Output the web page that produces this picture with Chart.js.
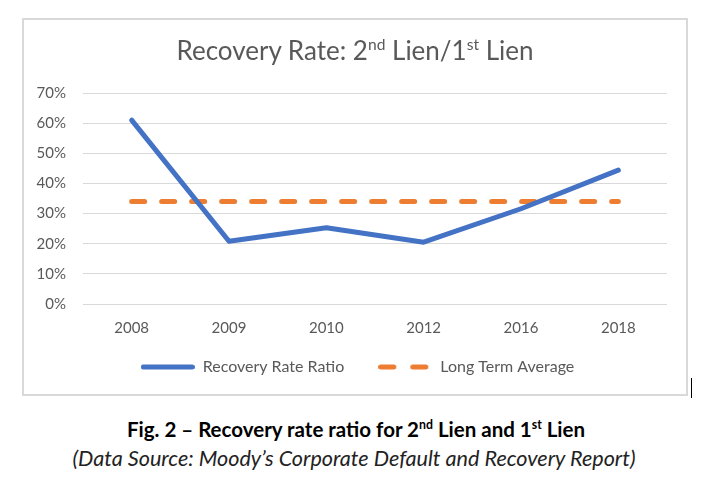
<!DOCTYPE html>
<html>
<head>
<meta charset="utf-8">
<script src="https://cdn.jsdelivr.net/npm/chart.js@4/dist/chart.umd.min.js"></script>
<style>
  html, body { margin: 0; padding: 0; background: #fff; }
  body { width: 705px; height: 482px; position: relative; overflow: hidden; font-family: Lato, "Open Sans", sans-serif; }
  #box {
    position: absolute; left: 22px; top: 18px; width: 666px; height: 378px;
    border: 2px solid #d9d9d9; box-sizing: border-box;
  }
  #box canvas { position: absolute; left: 0; top: 0; }
  #title {
    position: absolute; left: 0; right: 0; top: 15px; text-align: center;
    font-size: 26px; color: #595959; line-height: 30px; white-space: nowrap;
  }
  #title sup, .cap sup { font-size: 0.6em; line-height: 0; vertical-align: 0.65em; }
  .cap { position: absolute; left: 0; right: 0; text-align: center; white-space: nowrap; color: #000; line-height: 24px; }
  #fig { top: 417px; left: 7px; font-size: 20.5px; font-weight: bold; }
  #src { top: 446px; left: 3px; font-size: 21.6px; font-style: italic; color: #222; }
  #cursor { position: absolute; left: 691px; top: 378px; width: 1px; height: 20px; background: #000; }
</style>
</head>
<body>
<div id="box">
  <canvas id="recoveryChart" width="662" height="374"></canvas>
  <div id="title">Recovery Rate: 2<sup>nd</sup> Lien/1<sup>st</sup> Lien</div>
</div>
<div id="cursor"></div>
<div class="cap" id="fig">Fig. 2 – Recovery rate ratio for 2<sup>nd</sup> Lien and 1<sup>st</sup> Lien</div>
<div class="cap" id="src">(Data Source: Moody’s Corporate Default and Recovery Report)</div>

<script>
// chart data
const years = ['2008', '2009', '2010', '2012', '2016', '2018'];
const recoveryRatio = [61, 20.8, 25.3, 20.5, 31.6, 44.4];
const longTermAverage = [34, 34, 34, 34, 34, 34];
const yTicks = [0, 10, 20, 30, 40, 50, 60, 70];

const labelColor = '#595959';
const gridColor = '#d9d9d9';
const blue = '#4472c4';
const orange = '#ed7d31';

// small legend swatches, so the dashed one stays dashed
function legendSwatch(color, dash) {
    const c = document.createElement('canvas');
    c.width = 54;
    c.height = 8;
    const g = c.getContext('2d');
    g.strokeStyle = color;
    g.lineWidth = 5;
    g.lineCap = 'round';
    g.setLineDash(dash);
    g.beginPath();
    g.moveTo(2.5, 4);
    g.lineTo(51.5, 4);
    g.stroke();
    return c;
}

// legend keeps wide gaps between items but sits closer to the axis labels
const legendShift = {
    id: 'legendShift',
    afterLayout(chart) {
        chart.legend.top -= 19;
        chart.legend.bottom -= 19;
        chart.legend.left += 12;
        chart.legend.right += 12;
    }
};

Chart.defaults.font.family = 'Lato, "Open Sans", sans-serif';
Chart.defaults.color = labelColor;

const ctx = document.getElementById('recoveryChart').getContext('2d');
new Chart(ctx, {
    type: 'line',
    data: {
        labels: years,
        datasets: [
            {
                label: 'Recovery Rate Ratio',
                data: recoveryRatio,
                borderColor: blue,
                backgroundColor: blue,
                borderWidth: 5,
                borderCapStyle: 'round',
                borderJoinStyle: 'round',
                pointRadius: 0,
                pointStyle: legendSwatch(blue, []),
                tension: 0
            },
            {
                label: 'Long Term Average',
                data: longTermAverage,
                borderColor: orange,
                backgroundColor: orange,
                borderWidth: 5,
                borderDash: [13, 17],
                borderCapStyle: 'round',
                pointRadius: 0,
                pointStyle: legendSwatch(orange, [13, 19]),
                tension: 0
            }
        ]
    },
    plugins: [legendShift],
    options: {
        responsive: false,
        animation: false,
        devicePixelRatio: 1,
        layout: { padding: { top: 73, left: 0, right: 19, bottom: -10 } },
        plugins: {
            title: { display: false },
            tooltip: { enabled: false },
            legend: {
                position: 'bottom',
                labels: {
                    usePointStyle: true,
                    pointStyleWidth: 54,
                    boxHeight: 15,
                    padding: 34,
                    color: labelColor,
                    font: { size: 16 }
                }
            }
        },
        scales: {
            x: {
                offset: true,
                grid: { display: false },
                border: { display: false },
                afterFit: scale => { scale.height = 40; },
                ticks: { padding: 7, font: { size: 15 }, color: labelColor }
            },
            y: {
                min: 0,
                max: 70,
                afterBuildTicks: scale => {
                    scale.ticks = yTicks.map(v => ({ value: v }));
                },
                afterFit: scale => { scale.width = 59; },
                grid: { color: gridColor, lineWidth: 1, drawTicks: false },
                border: { display: false },
                ticks: {
                    padding: 17,
                    font: { size: 15 },
                    color: labelColor,
                    callback: value => value + '%'
                }
            }
        }
    }
});
</script>
</body>
</html>
